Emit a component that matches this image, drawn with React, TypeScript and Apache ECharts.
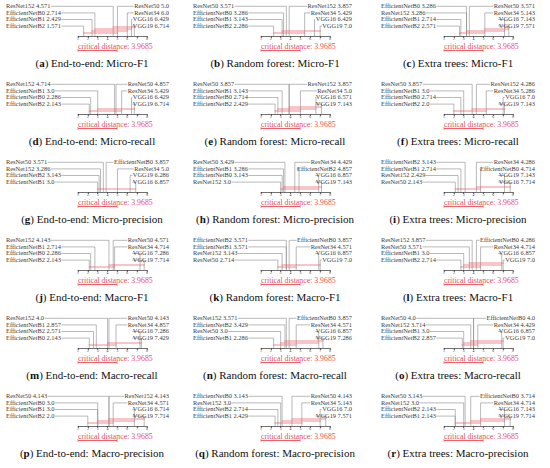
import React, { useEffect, useRef } from "react";
import * as echarts from "echarts";

// ---------- data ----------
const PANEL_IDS = ["a", "b", "c", "d", "e", "f", "g", "h", "i", "j", "k", "l", "m", "n", "o", "p", "q", "r"];
const CLASSIFIERS = ["End-to-end", "Random forest", "Extra trees"];
const METRICS = ["Micro-F1", "Micro-recall", "Micro-precision", "Macro-F1", "Macro-recall", "Macro-precision"];
const CRITICAL_DISTANCE = 3.9685;
const RANK_MIN = 1;
const RANK_MAX = 8;

// first four: left labels (top -> bottom), last four: right labels (top -> bottom)
const namesA = ["ResNet152", "EfficientNetB0", "EfficientNetB1", "EfficientNetB2", "ResNet50", "ResNet34", "VGG16", "VGG19"];
const ranksA = [4.571, 2.714, 2.429, 1.571, 5.0, 6.0, 6.429, 6.714];
const namesB = ["ResNet50", "EfficientNetB0", "EfficientNetB1", "EfficientNetB2", "ResNet152", "ResNet34", "VGG16", "VGG19"];
const ranksB = [3.571, 3.286, 3.143, 2.286, 3.857, 5.429, 6.429, 7.0];
const namesC = ["EfficientNetB0", "ResNet152", "EfficientNetB1", "EfficientNetB2", "ResNet50", "ResNet34", "VGG16", "VGG19"];
const ranksC = [3.286, 3.286, 2.714, 2.571, 3.571, 5.143, 7.143, 7.571];
const namesD = ["ResNet152", "EfficientNetB1", "EfficientNetB0", "EfficientNetB2", "ResNet50", "ResNet34", "VGG16", "VGG19"];
const ranksD = [4.714, 3.0, 2.286, 2.143, 4.857, 5.429, 6.429, 6.714];
const namesE = ["ResNet50", "EfficientNetB1", "EfficientNetB0", "EfficientNetB2", "ResNet152", "ResNet34", "VGG16", "VGG19"];
const ranksE = [3.857, 3.143, 2.714, 2.429, 3.857, 5.0, 6.571, 7.143];
const namesF = ["ResNet50", "EfficientNetB1", "EfficientNetB0", "EfficientNetB2", "ResNet152", "ResNet34", "VGG16", "VGG19"];
const ranksF = [3.857, 3.0, 2.714, 2.0, 4.286, 5.286, 7.0, 7.143];
const namesG = ["ResNet50", "ResNet152", "EfficientNetB2", "EfficientNetB1", "EfficientNetB0", "ResNet34", "VGG19", "VGG16"];
const ranksG = [3.571, 3.286, 3.143, 3.0, 3.857, 5.0, 6.286, 6.857];
const namesH = ["ResNet50", "EfficientNetB1", "EfficientNetB0", "ResNet152", "ResNet34", "EfficientNetB2", "VGG16", "VGG19"];
const ranksH = [3.429, 3.286, 3.143, 3.0, 4.429, 4.857, 6.857, 7.143];
const namesI = ["EfficientNetB2", "EfficientNetB1", "ResNet152", "ResNet50", "ResNet34", "EfficientNetB0", "VGG19", "VGG16"];
const ranksI = [3.143, 2.714, 2.429, 2.143, 4.286, 4.714, 7.143, 7.714];
const namesJ = ["ResNet152", "EfficientNetB1", "EfficientNetB0", "EfficientNetB2", "ResNet50", "ResNet34", "VGG16", "VGG19"];
const ranksJ = [4.143, 2.714, 2.286, 2.143, 4.571, 4.714, 7.286, 7.714];
const namesK = ["EfficientNetB2", "EfficientNetB1", "ResNet152", "ResNet50", "EfficientNetB0", "ResNet34", "VGG16", "VGG19"];
const ranksK = [3.571, 3.571, 3.143, 2.714, 3.857, 4.571, 6.857, 7.0];
const namesL = ["ResNet152", "ResNet50", "EfficientNetB1", "EfficientNetB2", "EfficientNetB0", "ResNet34", "VGG16", "VGG19"];
const ranksL = [3.857, 3.571, 3.0, 2.714, 4.286, 4.714, 6.857, 7.0];
const namesM = ["ResNet152", "EfficientNetB1", "EfficientNetB2", "EfficientNetB0", "ResNet50", "ResNet34", "VGG16", "VGG19"];
const ranksM = [4.0, 2.857, 2.571, 2.143, 4.143, 4.857, 7.286, 7.429];
const namesN = ["ResNet152", "EfficientNetB2", "ResNet50", "EfficientNetB1", "EfficientNetB0", "ResNet34", "VGG16", "VGG19"];
const ranksN = [3.571, 3.429, 3.0, 2.286, 3.857, 4.571, 6.857, 7.286];
const namesO = ["ResNet50", "ResNet152", "EfficientNetB1", "EfficientNetB2", "EfficientNetB0", "ResNet34", "VGG16", "VGG19"];
const ranksO = [4.0, 3.714, 3.0, 2.857, 4.0, 4.429, 6.857, 7.0];
const namesP = ["ResNet50", "EfficientNetB0", "EfficientNetB1", "EfficientNetB2", "ResNet152", "ResNet34", "VGG16", "VGG19"];
const ranksP = [4.143, 3.0, 3.0, 2.0, 4.143, 4.571, 6.714, 7.714];
const namesQ = ["EfficientNetB0", "ResNet152", "EfficientNetB2", "EfficientNetB1", "ResNet50", "ResNet34", "VGG16", "VGG19"];
const ranksQ = [3.143, 3.0, 2.714, 2.429, 4.143, 5.143, 7.0, 7.571];
const namesR = ["ResNet50", "ResNet152", "EfficientNetB2", "EfficientNetB1", "EfficientNetB0", "ResNet34", "VGG16", "VGG19"];
const ranksR = [3.143, 3.0, 2.143, 2.143, 3.714, 4.714, 7.143, 7.714];

const PANEL_NAMES = [namesA, namesB, namesC, namesD, namesE, namesF, namesG, namesH, namesI, namesJ, namesK, namesL, namesM, namesN, namesO, namesP, namesQ, namesR];
const PANEL_RANKS = [ranksA, ranksB, ranksC, ranksD, ranksE, ranksF, ranksG, ranksH, ranksI, ranksJ, ranksK, ranksL, ranksM, ranksN, ranksO, ranksP, ranksQ, ranksR];

// ---------- style / layout ----------
const W = 550;
const H = 468;
const COL_X = [0, 183, 366];
const ROW_H = 78;
const LABEL_LEFT = [6, 10, 15];
const LABEL_RIGHT = 169;
const AXIS_LEFT = 78;
const AXIS_W = 69;
const GRID_TOP = 4;
const GRID_H = 32;
const ROW0 = 1.5;
const ROW_GAP = 6.6;
const LABEL_FONT = '6.4px "Liberation Serif", serif';
const RED = "#e8505b";
const GREY = "#8a8a8a";
const TEXT = "#3a3a3a";

function fmtRank(r: number) {
  return Number.isInteger(r) ? r.toFixed(1) : String(r);
}

let measureCtx: CanvasRenderingContext2D | null = null;
function textWidth(s: string) {
  if (!measureCtx) measureCtx = document.createElement("canvas").getContext("2d");
  measureCtx!.font = LABEL_FONT;
  return measureCtx!.measureText(s).width;
}

function cliquesOf(ranks: number[], cd: number) {
  const s = [...ranks].sort((a, b) => a - b);
  const out: number[][] = [];
  let lastJ = -1;
  for (let i = 0; i < s.length; i++) {
    let j = i;
    while (j + 1 < s.length && s[j + 1] - s[i] < cd) j++;
    if (j > i && j > lastJ) {
      out.push([s[i], s[j]]);
      lastJ = j;
    }
  }
  return out;
}

export default function App() {
  const ref = useRef<HTMLDivElement>(null);
  useEffect(() => {
    document.body.style.margin = "0";
    const chart = echarts.init(ref.current!, null, { renderer: "svg" });
    const grids: any[] = [];
    const xAxes: any[] = [];
    const yAxes: any[] = [];
    const series: any[] = [];
    const graphics: any[] = [];

    PANEL_IDS.forEach((id, p) => {
      const row = Math.floor(p / 3);
      const col = p % 3;
      const ox = COL_X[col];
      const oy = row * ROW_H;
      const names = PANEL_NAMES[p];
      const ranks = PANEL_RANKS[p];
      const labels = names.map((n, i) => `${n} ${fmtRank(ranks[i])}`);
      const labelLeftOff = AXIS_LEFT - LABEL_LEFT[col];
      const labelRightOff = LABEL_RIGHT - AXIS_LEFT - AXIS_W;

      grids.push({ left: ox + AXIS_LEFT, top: oy + GRID_TOP, width: AXIS_W, height: GRID_H });
      xAxes.push({
        gridIndex: p,
        type: "value",
        min: RANK_MIN,
        max: RANK_MAX,
        interval: 1,
        axisLine: { show: true, onZero: false, lineStyle: { color: "#333", width: 0.7 } },
        axisTick: { show: true, length: 2.2, lineStyle: { color: "#333", width: 0.6 } },
        axisLabel: { show: true, fontSize: 3.8, margin: 0.8, color: "#444", fontFamily: "Liberation Serif" },
        splitLine: { show: false },
      });
      yAxes.push({ gridIndex: p, type: "value", min: 0, max: 1, show: false });

      // connectors + labels
      series.push({
        type: "custom",
        xAxisIndex: p,
        yAxisIndex: p,
        clip: false,
        silent: true,
        data: ranks.map((r, i) => [r, 0, i]),
        renderItem: (params: any, api: any) => {
          const cs = params.coordSys;
          const i = api.value(2);
          const pt = api.coord([api.value(0), 0]);
          const axisY = cs.y + cs.height;
          const isLeft = i < 4;
          const rowY = cs.y + ROW0 + (i % 4) * ROW_GAP;
          const label = labels[i];
          const w = textWidth(label);
          let tx: number, lineStart: number;
          if (isLeft) {
            tx = cs.x - labelLeftOff;
            lineStart = tx + w + 0.5;
          } else {
            tx = cs.x + cs.width + labelRightOff;
            lineStart = tx - w - 0.5;
          }
          return {
            type: "group",
            children: [
              {
                type: "polyline",
                shape: { points: [[lineStart, rowY + 0.8], [pt[0], rowY + 0.8], [pt[0], axisY]] },
                style: { stroke: GREY, lineWidth: 0.6, fill: null },
              },
              {
                type: "text",
                x: tx,
                y: rowY,
                style: {
                  text: label,
                  font: LABEL_FONT,
                  fill: TEXT,
                  align: isLeft ? "left" : "right",
                  verticalAlign: "middle",
                },
              },
            ],
          };
        },
      });

      // cliques
      const cl = cliquesOf(ranks, CRITICAL_DISTANCE);
      series.push({
        type: "custom",
        xAxisIndex: p,
        yAxisIndex: p,
        clip: false,
        silent: true,
        data: cl.map((c, k) => [c[0], c[1], k]),
        renderItem: (params: any, api: any) => {
          const cs = params.coordSys;
          const a = api.coord([api.value(0), 0]);
          const b = api.coord([api.value(1), 0]);
          const y = cs.y + cs.height - 3 - api.value(2) * 2;
          return {
            type: "line",
            shape: { x1: a[0] - 0.5, y1: y, x2: b[0] + 0.5, y2: y },
            style: { stroke: RED, lineWidth: 0.9, opacity: 0.75 },
          };
        },
      });

      // critical distance
      series.push({
        type: "custom",
        xAxisIndex: p,
        yAxisIndex: p,
        clip: false,
        silent: true,
        data: [[RANK_MIN, RANK_MIN + CRITICAL_DISTANCE]],
        renderItem: (params: any, api: any) => {
          const cs = params.coordSys;
          const a = api.coord([api.value(0), 0]);
          const b = api.coord([api.value(1), 0]);
          const baseY = cs.y + cs.height;
          const uy = baseY + 14.5;
          return {
            type: "group",
            children: [
              {
                type: "text",
                x: a[0],
                y: baseY + 10,
                style: {
                  text: `critical distance: ${CRITICAL_DISTANCE}`,
                  font: '7.8px "Liberation Serif", serif',
                  fill: RED,
                  align: "left",
                  verticalAlign: "middle",
                },
              },
              { type: "line", shape: { x1: a[0], y1: uy, x2: b[0], y2: uy }, style: { stroke: RED, lineWidth: 0.9 } },
              { type: "line", shape: { x1: a[0], y1: uy - 1.5, x2: a[0], y2: uy + 1.5 }, style: { stroke: RED, lineWidth: 0.6 } },
              { type: "line", shape: { x1: b[0], y1: uy - 1.5, x2: b[0], y2: uy + 1.5 }, style: { stroke: RED, lineWidth: 0.6 } },
            ],
          };
        },
      });

      graphics.push({
        type: "text",
        x: ox + 92,
        y: oy + 63,
        style: {
          text: `({b|${id}}) ${CLASSIFIERS[col]}: ${METRICS[row]}`,
          rich: { b: { fontWeight: "bold", fontFamily: "Liberation Serif", fontSize: 11, fill: "#111" } },
          font: '11px "Liberation Serif", serif',
          fill: "#111",
          align: "center",
          verticalAlign: "middle",
        },
      });
    });

    chart.setOption({
      animation: false,
      backgroundColor: "#ffffff",
      grid: grids,
      xAxis: xAxes,
      yAxis: yAxes,
      series,
      graphic: { elements: graphics },
    });
    return () => chart.dispose();
  }, []);
  return <div ref={ref} style={{ width: W, height: H }} />;
}
